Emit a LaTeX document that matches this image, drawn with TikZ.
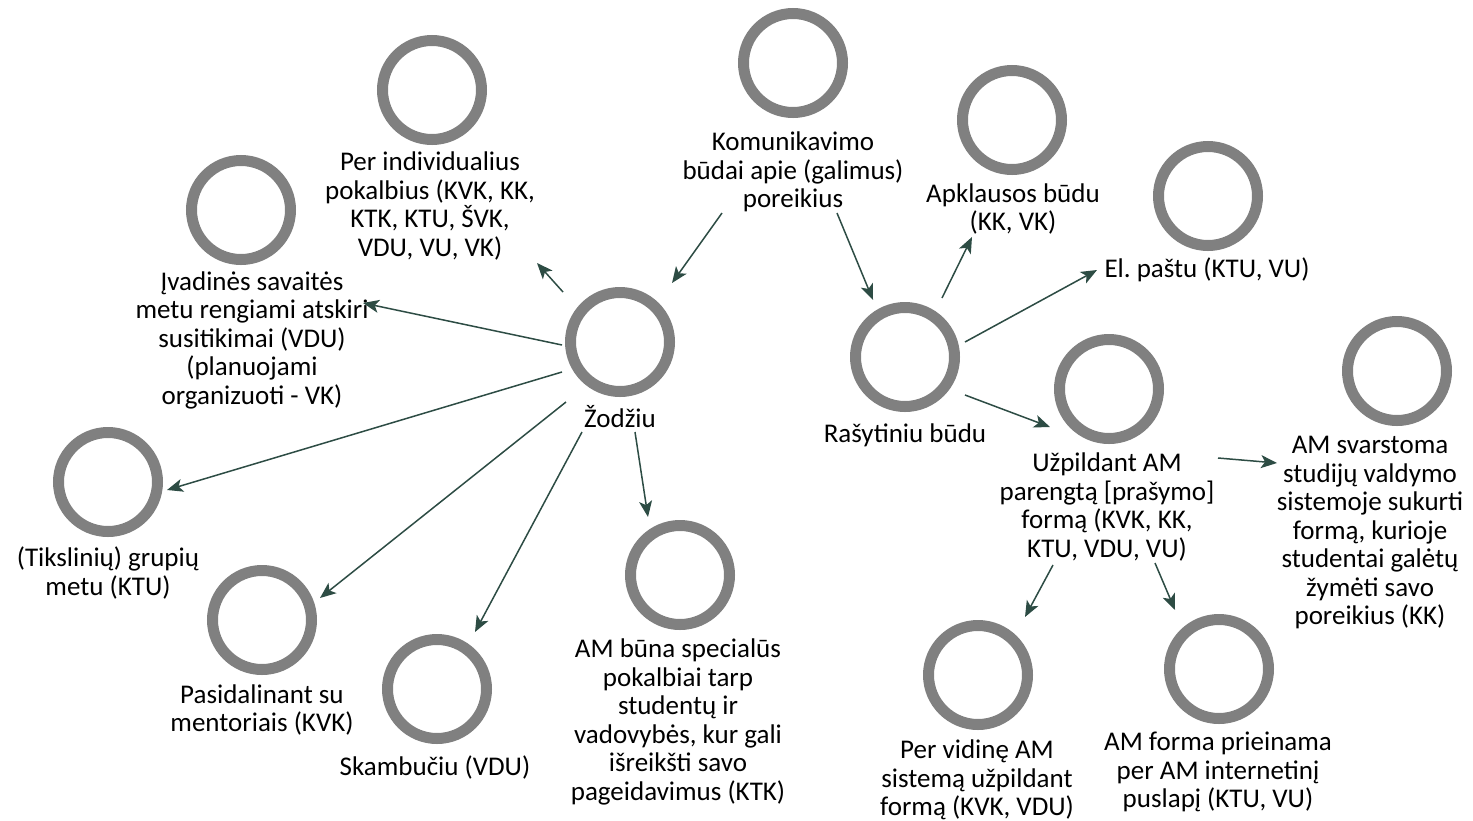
\documentclass[tikz,border=0pt]{standalone}
\usepackage{fontspec}
\setmainfont{Carlito}
\frenchspacing
\usetikzlibrary{arrows.meta,calc}
\definecolor{ringgray}{RGB}{128,128,128}
\definecolor{arrowgreen}{RGB}{45,76,68}
\begin{document}
\begin{tikzpicture}[x=1pt,y=-1pt,
  ring/.style={circle,draw=ringgray,line width=11pt,fill=white,minimum size=99pt,inner sep=0pt},
  lbl/.style={align=center,inner sep=0pt,font=\fontsize{27}{28.5}\selectfont},
  arr/.style={draw=arrowgreen,line width=1.5pt,-{Stealth[length=16pt,width=13pt,inset=4pt]}}]
\useasboundingbox (0,0) rectangle (1473,820);
% circles
\node[ring] (k)  at (793,63) {};
\node[ring] (z)  at (620,342) {};
\node[ring] (pi) at (432,90) {};
\node[ring] (iv) at (241,210) {};
\node[ring] (tg) at (108,482) {};
\node[ring] (ps) at (262,620) {};
\node[ring] (sk) at (437,689) {};
\node[ring] (ab) at (680,575) {};
\node[ring] (r)  at (905,357) {};
\node[ring] (ap) at (1012,120) {};
\node[ring] (el) at (1208,196) {};
\node[ring] (u)  at (1109,389) {};
\node[ring] (as) at (1397,371) {};
\node[ring] (pv) at (978,675) {};
\node[ring] (af) at (1219,669) {};
% labels
\node[lbl] (kl)  at (793,172) {Komunikavimo\\būdai apie (galimus)\\poreikius};
\node[lbl] (zl)  at (620,417) {Žodžiu};
\node[lbl] (pil) at (430,206) {Per individualius\\pokalbius (KVK, KK,\\KTK, KTU, ŠVK,\\VDU, VU, VK)};
\node[lbl] (ivl) at (252,340) {Įvadinės savaitės\\metu rengiami atskiri\\susitikimai (VDU)\\(planuojami\\organizuoti - VK)};
\node[lbl] (tgl) at (108,573) {(Tikslinių) grupių\\metu (KTU)};
\node[lbl] (psl) at (262,710) {Pasidalinant su\\mentoriais (KVK)};
\node[lbl] (skl) at (435,767) {Skambučiu (VDU)};
\node[lbl] (abl) at (678,722) {AM būna specialūs\\pokalbiai tarp\\studentų ir\\vadovybės, kur gali\\išreikšti savo\\pageidavimus (KTK)};
\node[lbl] (rl)  at (905,435) {Rašytiniu būdu};
\node[lbl] (apl) at (1013,209) {Apklausos būdu\\(KK, VK)};
\node[lbl] (ell) at (1207,270) {El.\ paštu (KTU, VU)};
\node[lbl] (ul)  at (1107,507) {Užpildant AM\\parengtą [prašymo]\\formą (KVK, KK,\\KTU, VDU, VU)};
\node[lbl] (asl) at (1370,533) {AM svarstoma\\studijų valdymo\\sistemoje sukurti\\formą, kurioje\\studentai galėtų\\žymėti savo\\poreikius (KK)};
\node[lbl] (pvl) at (977,780) {Per vidinę AM\\sistemą užpildant\\formą (KVK, VDU)};
\node[lbl] (afl) at (1218,772) {AM forma prieinama\\per AM internetinį\\puslapį (KTU, VU)};
% connectors
\draw[arr] ($(kl)+(-71,41)$) -- ($(z)+(52,-59)$);
\draw[arr] ($(kl)+(44,41)$) -- ($(r)+(-32,-57)$);
\draw[arr] ($(z)+(-57,-50)$) -- ($(pil)+(107,57)$);
\draw[arr] ($(z)+(-58,3)$) -- ($(ivl)+(111,-37)$);
\draw[arr] ($(z)+(-58,30)$) -- ($(tg)+(59,8)$);
\draw[arr] ($(z)+(-54,60)$) -- ($(ps)+(58,-22)$);
\draw[arr] ($(zl)+(-38,15)$) -- ($(sk)+(38,-57)$);
\draw[arr] ($(zl)+(15,15)$) -- ($(ab)+(-32,-58)$);
\draw[arr] ($(r)+(37,-59)$) -- ($(apl)+(-41,28)$);
\draw[arr] ($(r)+(60,-15)$) -- ($(ell)+(-110,0)$);
\draw[arr] ($(r)+(60,38)$) -- ($(u)+(-59,38)$);
\draw[arr] ($(ul)+(111,-49)$) -- ($(asl)+(-93,-70)$);
\draw[arr] ($(ul)+(-54,58)$) -- ($(pv)+(47,-58)$);
\draw[arr] ($(ul)+(48,56)$) -- ($(af)+(-44,-59)$);
\end{tikzpicture}
\end{document}
